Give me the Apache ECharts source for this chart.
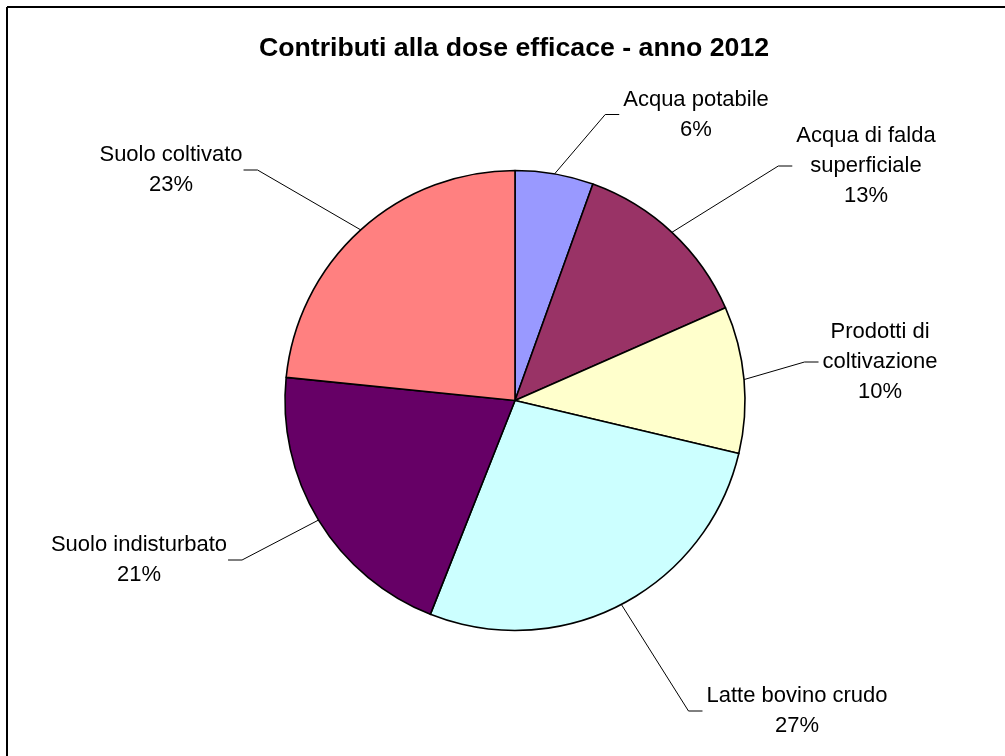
<!DOCTYPE html>
<html>
<head>
<meta charset="utf-8">
<script src="https://cdn.jsdelivr.net/npm/echarts@6/dist/echarts.min.js"></script>
<style>
  html, body { margin: 0; padding: 0; background: #fff; }
  #chart { width: 1005px; height: 756px; }
</style>
</head>
<body>
<div id="chart"></div>
<script>
// Contributions to the effective dose, year 2012 (shares in %)
const titleText = 'Contributi alla dose efficace - anno 2012';
const categories = [
  'Acqua potabile',
  'Acqua di falda\nsuperficiale',
  'Prodotti di\ncoltivazione',
  'Latte bovino crudo',
  'Suolo indisturbato',
  'Suolo coltivato'
];
const shares = [5.5, 12.9, 10.3, 27.3, 20.6, 23.4];
const sliceColors = ['#9999FF', '#993366', '#FFFFCC', '#CCFFFF', '#660066', '#FF8080'];

// Pie geometry and label placement (label block centres, side of the leader tail)
const pieCenter = [515, 400.5];
const pieRadius = 230;
const labelSpots = [
  { cx: 696, cy: 114.5, side: 'left' },
  { cx: 866, cy: 166, side: 'left' },
  { cx: 880, cy: 362, side: 'left' },
  { cx: 797, cy: 711, side: 'left' },
  { cx: 139, cy: 560, side: 'right' },
  { cx: 171, cy: 170, side: 'right' }
];

const total = shares.reduce((a, b) => a + b, 0);
function edgePoint(i) {
  let cum = 0;
  for (let k = 0; k < i; k++) cum += shares[k];
  const frac = (cum + shares[i] / 2) / total;
  const ang = frac * 2 * Math.PI; // clockwise from 12 o'clock
  return [pieCenter[0] + pieRadius * Math.sin(ang), pieCenter[1] - pieRadius * Math.cos(ang)];
}

const chart = echarts.init(document.getElementById('chart'), null, { renderer: 'canvas' });
chart.setOption({
  backgroundColor: '#ffffff',
  animation: false,
  title: {
    text: titleText,
    left: 509,
    top: 30,
    textAlign: 'center',
    textStyle: {
      fontFamily: 'Liberation Sans, Arial, sans-serif',
      fontWeight: 'bold',
      fontSize: 26.7,
      color: '#000'
    }
  },
  graphic: [
    { type: 'line', shape: { x1: 7, y1: 7, x2: 1005, y2: 7 }, style: { stroke: '#000', lineWidth: 2 } },
    { type: 'line', shape: { x1: 7, y1: 7, x2: 7, y2: 756 }, style: { stroke: '#000', lineWidth: 2 } }
  ],
  series: [{
    type: 'pie',
    center: pieCenter,
    radius: pieRadius,
    startAngle: 90,
    clockwise: true,
    avoidLabelOverlap: false,
    silent: true,
    data: categories.map((name, i) => ({
      name: name,
      value: shares[i],
      itemStyle: { color: sliceColors[i] }
    })),
    itemStyle: { borderColor: '#000', borderWidth: 1.6 },
    label: {
      show: true,
      position: 'outside',
      formatter: p => p.name + '\n' + Math.round(p.percent) + '%',
      fontFamily: 'Liberation Sans, Arial, sans-serif',
      fontSize: 22,
      lineHeight: 30,
      color: '#000',
      align: 'center'
    },
    labelLine: {
      show: true,
      length: 20,
      length2: 10,
      lineStyle: { color: '#000', width: 1 }
    },
    labelLayout: function (params) {
      const i = params.dataIndex;
      const s = labelSpots[i];
      const w = params.labelRect.width;
      const e = edgePoint(i);
      let tailEnd, elbow;
      if (s.side === 'left') {
        tailEnd = [s.cx - w / 2 - 4, s.cy];
        elbow = [tailEnd[0] - 14, s.cy];
      } else {
        tailEnd = [s.cx + w / 2 + 1, s.cy];
        elbow = [tailEnd[0] + 14, s.cy];
      }
      return {
        x: s.cx,
        y: s.cy,
        align: 'center',
        verticalAlign: 'middle',
        labelLinePoints: [e, elbow, tailEnd]
      };
    }
  }]
});
</script>
</body>
</html>
